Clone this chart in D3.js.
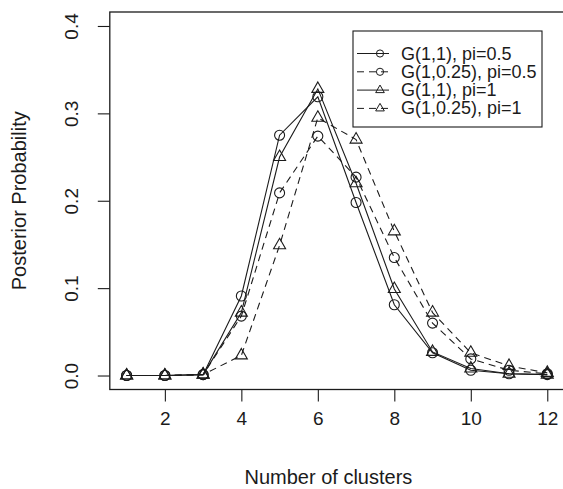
<!DOCTYPE html>
<html>
<head>
<meta charset="utf-8">
<script src="https://cdn.jsdelivr.net/npm/d3@7"></script>
<style>
    html, body { margin: 0; padding: 0; background: #fff; }
    svg { display: block; font-family: "Liberation Sans", Arial, sans-serif; }
</style>
</head>
<body>
<svg id="chart" width="563" height="489"></svg>
<script>
// number of clusters on the x axis
var clusters = [1, 2, 3, 4, 5, 6, 7, 8, 9, 10, 11, 12];

// posterior probabilities, one array per prior setting
var g11Pi05 = [0, 0, 0.001, 0.091, 0.275, 0.319, 0.198, 0.081, 0.026, 0.006, 0.002, 0.001];
var g1025Pi05 = [0, 0, 0.001, 0.068, 0.209, 0.274, 0.227, 0.135, 0.060, 0.019, 0.006, 0.002];
var g11Pi1 = [0, 0, 0.001, 0.072, 0.250, 0.328, 0.220, 0.099, 0.027, 0.008, 0.002, 0.001];
var g1025Pi1 = [0, 0, 0.001, 0.023, 0.149, 0.295, 0.270, 0.165, 0.072, 0.026, 0.011, 0.003];

var seriesNames = ['G(1,1), pi=0.5', 'G(1,0.25), pi=0.5', 'G(1,1), pi=1', 'G(1,0.25), pi=1'];

var xTicks = [2, 4, 6, 8, 10, 12];
var yTicks = [0, 0.1, 0.2, 0.3, 0.4];

var series = [
    {name: seriesNames[0], values: g11Pi05, dashed: false, shape: 'circle'},
    {name: seriesNames[1], values: g1025Pi05, dashed: true, shape: 'circle'},
    {name: seriesNames[2], values: g11Pi1, dashed: false, shape: 'triangle'},
    {name: seriesNames[3], values: g1025Pi1, dashed: true, shape: 'triangle'}
];

var ink = '#1b1b1b';
var tickFont = 19;
var titleFont = 20;
var legendFont = 18;
var dash = '7,5';

var svg = d3.select('#chart');

// plot region, R style 4% padding around the data range
var box = {left: 109.8, right: 564.1, top: 12, bottom: 389.5};

var x = d3.scaleLinear().domain([1 - 0.44, 12 + 0.44]).range([box.left, box.right]);
var y = d3.scaleLinear().domain([-0.016, 0.416]).range([box.bottom, box.top]);

function markerPath(shape, r) {
    if (shape === 'circle') {
        var p = d3.path();
        p.arc(0, 0, r, 0, 2 * Math.PI);
        return p.toString();
    }
    // open triangle, apex up
    var w = r * 1.2, up = r * 1.4, down = r * 0.7;
    return 'M0,' + (-up) + 'L' + w + ',' + down + 'L' + (-w) + ',' + down + 'Z';
}

// axes
var xAxis = d3.axisBottom(x).tickValues(xTicks).tickSize(12).tickPadding(0).tickFormat(d3.format('d'));
var gX = svg.append('g')
    .attr('transform', 'translate(0,' + box.bottom + ')')
    .call(xAxis);

var yAxis = d3.axisLeft(y).tickValues(yTicks).tickSize(12).tickFormat(d3.format('.1f'));
var gY = svg.append('g')
    .attr('transform', 'translate(' + box.left + ',0)')
    .call(yAxis);

[gX, gY].forEach(g => {
    g.select('.domain').remove();
    g.selectAll('line').attr('stroke', ink).attr('stroke-width', 1.1);
    g.selectAll('text')
        .attr('fill', ink)
        .style('font-size', tickFont + 'px')
        .style('font-family', '"Liberation Sans", Arial, sans-serif');
});

gX.selectAll('text')
    .attr('y', 35)
    .attr('dy', 0);

gY.selectAll('text')
    .attr('transform', 'rotate(-90)')
    .attr('text-anchor', 'middle')
    .attr('x', 0)
    .attr('y', -32)
    .attr('dy', 0);

// axis titles
svg.append('text')
    .attr('x', (box.left + 547) / 2)
    .attr('y', 484)
    .attr('text-anchor', 'middle')
    .attr('fill', ink)
    .style('font-size', titleFont + 'px')
    .text('Number of clusters');

svg.append('text')
    .attr('transform', 'translate(26,' + ((box.top + box.bottom) / 2) + ') rotate(-90)')
    .attr('text-anchor', 'middle')
    .attr('fill', ink)
    .style('font-size', titleFont + 'px')
    .text('Posterior Probability');

// plot box
svg.append('rect')
    .attr('x', box.left)
    .attr('y', box.top)
    .attr('width', box.right - box.left)
    .attr('height', box.bottom - box.top)
    .attr('fill', 'none')
    .attr('stroke', ink)
    .attr('stroke-width', 1.3);

// lines and points
var line = d3.line()
    .x((d, i) => x(clusters[i]))
    .y(d => y(d));

var view = svg.append('g');

view.selectAll('path.line')
    .data(series)
    .enter()
    .append('path')
    .classed('line', true)
    .attr('d', d => line(d.values))
    .attr('fill', 'none')
    .attr('stroke', ink)
    .attr('stroke-width', 1.1)
    .attr('stroke-dasharray', d => d.dashed ? dash : null);

series.forEach(s => {
    view.append('g')
        .selectAll('path')
        .data(s.values)
        .enter()
        .append('path')
        .attr('transform', (d, i) => 'translate(' + x(clusters[i]) + ',' + y(d) + ')')
        .attr('d', markerPath(s.shape, 5))
        .attr('fill', 'none')
        .attr('stroke', ink)
        .attr('stroke-width', 1.1);
});

// legend
var legend = {left: 353, top: 31, right: 542, bottom: 127, row0: 53.5, step: 18.3};

var gL = svg.append('g');

gL.append('rect')
    .attr('x', legend.left)
    .attr('y', legend.top)
    .attr('width', legend.right - legend.left)
    .attr('height', legend.bottom - legend.top)
    .attr('fill', '#fff')
    .attr('stroke', ink)
    .attr('stroke-width', 1.1);

var rows = gL.selectAll('g.row')
    .data(series)
    .enter()
    .append('g')
    .attr('transform', (d, i) => 'translate(0,' + (legend.row0 + i * legend.step) + ')');

rows.append('line')
    .attr('x1', 357)
    .attr('x2', 389)
    .attr('stroke', ink)
    .attr('stroke-width', 1)
    .attr('stroke-dasharray', d => d.dashed ? dash : null);

rows.append('path')
    .attr('transform', 'translate(380,0)')
    .attr('d', d => markerPath(d.shape, 3.6))
    .attr('fill', 'none')
    .attr('stroke', ink)
    .attr('stroke-width', 1);

rows.append('text')
    .attr('x', 401)
    .attr('y', 6)
    .attr('fill', ink)
    .style('font-size', legendFont + 'px')
    .text(d => d.name);
</script>
</body>
</html>
